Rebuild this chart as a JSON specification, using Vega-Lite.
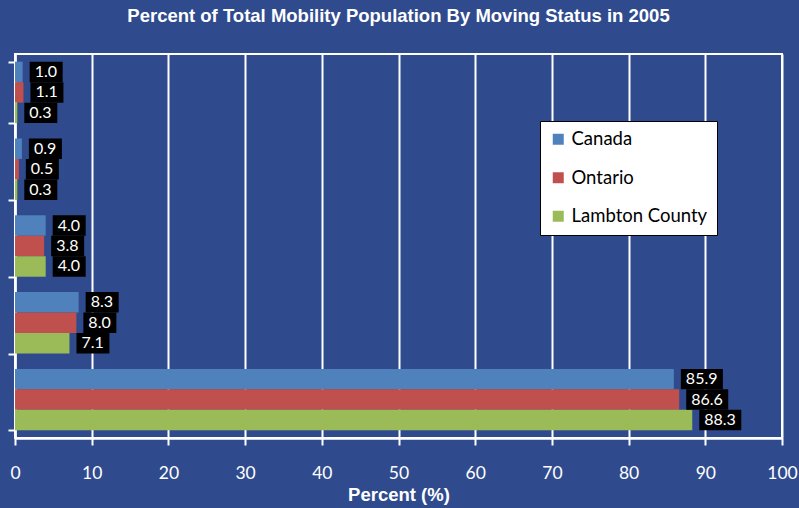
{
  "$schema": "https://vega.github.io/schema/vega-lite/v6.json",
  "width": 767,
  "height": 384,
  "autosize": {"type": "none"},
  "padding": {"left": 15, "top": 54, "right": 17, "bottom": 70},
  "background": "#2f4b8e",
  "title": {
    "text": "Percent of Total Mobility Population By Moving Status in 2005",
    "font": "Liberation Sans",
    "fontSize": 18.5,
    "fontWeight": "bold",
    "color": "white",
    "anchor": "middle",
    "offset": 29
  },
  "data": {
    "values": [
      {"status": "External migrants", "region": "Canada", "value": 1.0},
      {"status": "External migrants", "region": "Ontario", "value": 1.1},
      {"status": "External migrants", "region": "Lambton County", "value": 0.3},
      {"status": "Interprovincial migrants", "region": "Canada", "value": 0.9},
      {"status": "Interprovincial migrants", "region": "Ontario", "value": 0.5},
      {"status": "Interprovincial migrants", "region": "Lambton County", "value": 0.3},
      {"status": "Intraprovincial migrants", "region": "Canada", "value": 4.0},
      {"status": "Intraprovincial migrants", "region": "Ontario", "value": 3.8},
      {"status": "Intraprovincial migrants", "region": "Lambton County", "value": 4.0},
      {"status": "Non-migrants", "region": "Canada", "value": 8.3},
      {"status": "Non-migrants", "region": "Ontario", "value": 8.0},
      {"status": "Non-migrants", "region": "Lambton County", "value": 7.1},
      {"status": "Non-movers", "region": "Canada", "value": 85.9},
      {"status": "Non-movers", "region": "Ontario", "value": 86.6},
      {"status": "Non-movers", "region": "Lambton County", "value": 88.3}
    ]
  },
  "encoding": {
    "y": {
      "field": "status",
      "type": "nominal",
      "sort": null,
      "scale": {"paddingInner": 0.2, "paddingOuter": 0.1},
      "axis": {
        "title": null,
        "labels": false,
        "domainColor": "white",
        "domainWidth": 2.5,
        "tickColor": "white",
        "tickWidth": 2,
        "tickSize": 7,
        "tickBand": "extent",
        "grid": false
      }
    },
    "yOffset": {
      "field": "region",
      "type": "nominal",
      "sort": ["Canada", "Ontario", "Lambton County"],
      "scale": {"paddingInner": 0, "paddingOuter": 0}
    },
    "x": {
      "field": "value",
      "type": "quantitative",
      "scale": {"domain": [0, 100], "nice": false},
      "axis": {
        "title": "Percent (%)",
        "titleFont": "Liberation Sans",
        "titleFontSize": 18.5,
        "titleFontWeight": "bold",
        "titleColor": "white",
        "titlePadding": 4,
        "values": [0, 10, 20, 30, 40, 50, 60, 70, 80, 90, 100],
        "labelFont": "Lato",
        "labelFontSize": 17.5,
        "labelColor": "white",
        "labelPadding": 19,
        "labelFlush": false,
        "domainColor": "white",
        "domainWidth": 2.5,
        "tickColor": "white",
        "tickWidth": 2,
        "tickSize": 7,
        "grid": true,
        "gridColor": "white",
        "gridWidth": 2,
        "gridOpacity": 1
      }
    }
  },
  "layer": [
    {
      "mark": {"type": "bar"},
      "encoding": {
        "color": {
          "field": "region",
          "type": "nominal",
          "scale": {
            "domain": ["Canada", "Ontario", "Lambton County"],
            "range": ["#4f81bd", "#c0504d", "#9bbb59"]
          },
          "legend": {
            "title": null,
            "orient": "none",
            "legendX": 525,
            "legendY": 67,
            "symbolType": "square",
            "symbolSize": 121,
            "symbolStrokeWidth": 0,
            "labelFont": "Lato",
            "labelFontSize": 18.5,
            "labelColor": "black",
            "labelOffset": 4,
            "rowPadding": 19.5,
            "padding": 9,
            "fillColor": "white",
            "strokeColor": "black"
          }
        }
      }
    },
    {
      "transform": [{"filter": "datum.value < 10"}],
      "mark": {"type": "rect", "color": "black", "x2Offset": 40, "xOffset": 7},
      "encoding": {"x2": {"field": "value"}}
    },
    {
      "transform": [{"filter": "datum.value >= 10"}],
      "mark": {"type": "rect", "color": "black", "x2Offset": 49, "xOffset": 7},
      "encoding": {"x2": {"field": "value"}}
    },
    {
      "mark": {
        "type": "text",
        "align": "left",
        "baseline": "middle",
        "xOffset": 12,
        "font": "Lato",
        "fontSize": 16,
        "color": "white"
      },
      "encoding": {"text": {"field": "value", "type": "quantitative", "format": ".1f"}}
    }
  ],
  "config": {
    "view": {"stroke": "white", "strokeWidth": 2}
  }
}
